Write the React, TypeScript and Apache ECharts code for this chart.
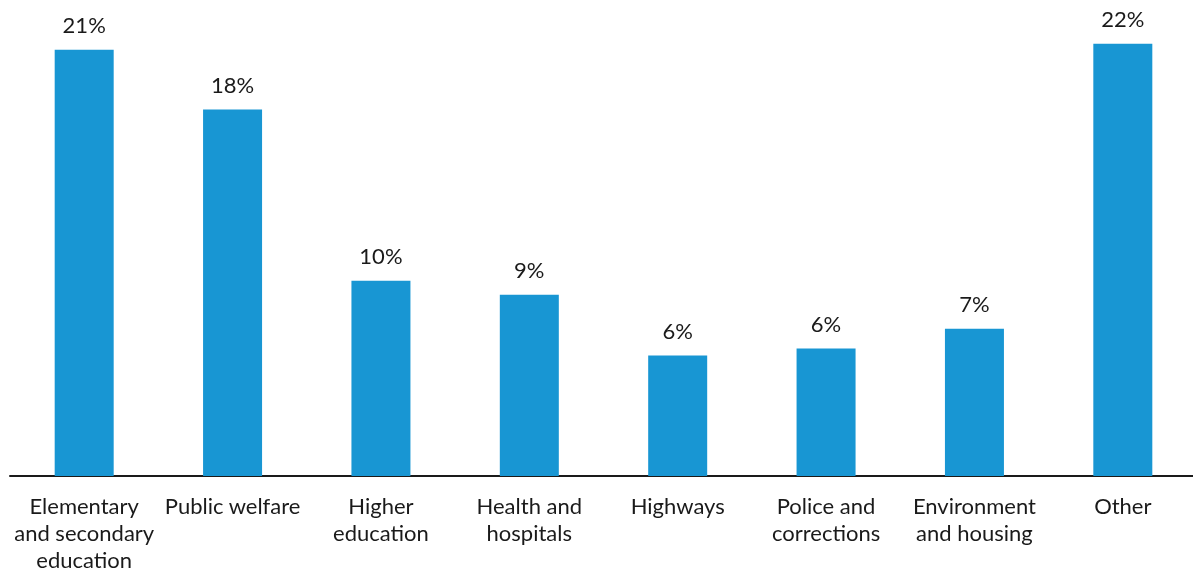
import React, { useEffect, useRef } from "react";
import * as echarts from "echarts";

const categories = [
  "Elementary\nand secondary\neducation",
  "Public welfare",
  "Higher\neducation",
  "Health and\nhospitals",
  "Highways",
  "Police and\ncorrections",
  "Environment\nand housing",
  "Other",
];
const values = [21.4, 18.4, 9.8, 9.1, 6.05, 6.4, 7.4, 21.7];
const valueLabels = ["21%", "18%", "10%", "9%", "6%", "6%", "7%", "22%"];

export default function App() {
  const ref = useRef<HTMLDivElement>(null);
  useEffect(() => {
    if (!ref.current) return;
    const chart = echarts.init(ref.current, null, { renderer: "svg" });
    chart.setOption({
      animation: false,
      textStyle: { fontFamily: "Lato" },
      grid: { left: 10, right: 0, top: 8, bottom: 93, containLabel: false },
      xAxis: {
        type: "category",
        data: categories,
        axisLine: { lineStyle: { color: "#1a1a1a", width: 2 } },
        axisTick: { show: false },
        axisLabel: {
          interval: 0,
          fontFamily: "Lato",
          fontSize: 22,
          lineHeight: 27,
          color: "#1a1a1a",
          margin: 16,
        },
      },
      yAxis: {
        type: "value",
        min: 0,
        max: 23.5,
        show: false,
        splitLine: { show: false },
      },
      series: [
        {
          type: "bar",
          data: values,
          barWidth: 59,
          itemStyle: { color: "#1896d3" },
          label: {
            show: true,
            position: "top",
            distance: 14,
            fontFamily: "Lato",
            fontSize: 22,
            color: "#1a1a1a",
            formatter: (p: any) => valueLabels[p.dataIndex],
          },
        },
      ],
    });
    return () => chart.dispose();
  }, []);
  return (
    <div style={{ position: "fixed", left: 0, top: 0, width: "100vw", height: "100vh", overflow: "hidden" }}>
      <div ref={ref} style={{ width: 1197, height: 573 }} />
    </div>
  );
}
